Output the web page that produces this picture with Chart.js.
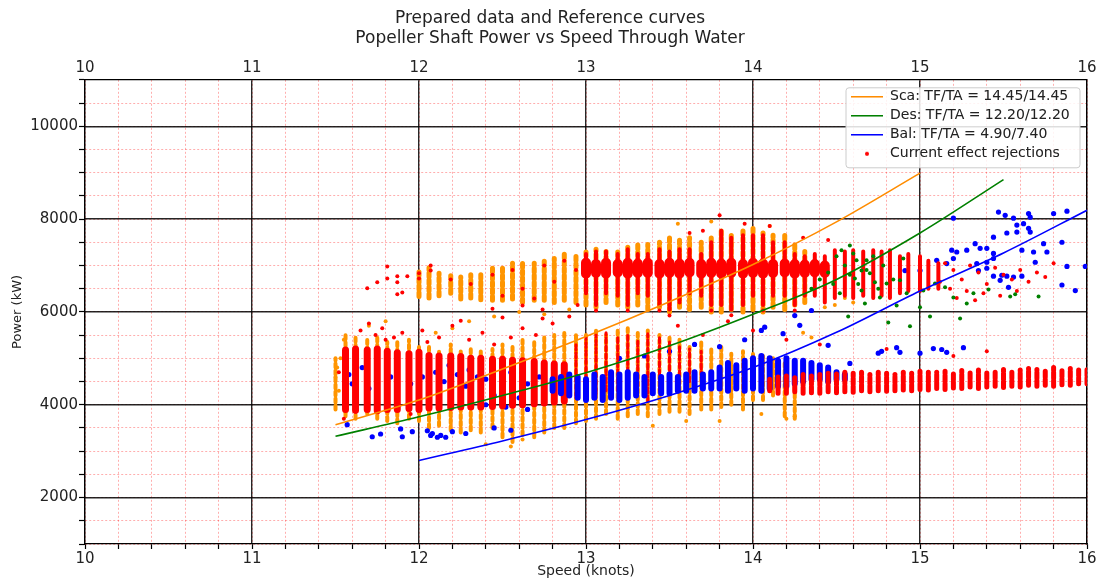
<!DOCTYPE html>
<html>
<head>
<meta charset="utf-8">
<script src="https://cdn.jsdelivr.net/npm/chart.js@4.4.0/dist/chart.umd.min.js"></script>
<style>
  html, body { margin: 0; padding: 0; background: #fff; }
</style>
</head>
<body>
<canvas id="powerChart" width="1100" height="581"></canvas>
<script>
// reference curves (speed in knots, power in kW)
const scaSpeed = [11.5, 12, 12.5, 13, 13.5, 14, 14.5, 15];
const scaPower = [3570, 4100, 4770, 5470, 6220, 7020, 7940, 8990];
const desSpeed = [11.5, 12, 12.5, 13, 13.5, 14, 14.5, 15, 15.5];
const desPower = [3320, 3740, 4200, 4690, 5270, 5950, 6700, 7700, 8850];
const balSpeed = [12, 12.5, 13, 13.5, 14, 14.5, 15, 15.5, 16];
const balPower = [2800, 3220, 3680, 4200, 4800, 5560, 6450, 7270, 8190];

// axis ticks
const speedMajor = [10, 11, 12, 13, 14, 15, 16];
const powerMajor = [2000, 4000, 6000, 8000, 10000];

// dense vertical columns of samples: speed, lowest and highest power
const orangeLowX = [11.50, 11.56, 11.62, 11.69, 11.75, 11.81, 11.87, 11.94, 12.00, 12.06, 12.12, 12.19, 12.25, 12.31, 12.37, 12.44, 12.50, 12.56, 12.62, 12.69, 12.75, 12.81, 12.87, 12.94, 13.00, 13.06, 13.12, 13.19, 13.25, 13.31, 13.37, 13.44, 13.50, 13.56, 13.62, 13.69, 13.75, 13.81, 13.87, 13.94, 14.00, 14.06, 14.12, 14.19, 14.25];
const orangeLowMin = [3900, 3750, 3700, 3800, 3700, 3650, 3600, 3700, 3650, 3500, 3550, 3450, 3400, 3450, 3400, 3500, 3300, 3200, 3350, 3300, 3400, 3500, 3500, 3600, 3650, 3700, 3800, 3700, 3750, 3800, 3750, 3800, 3850, 3850, 3800, 3900, 3900, 3950, 4000, 3900, 4100, 4100, 4200, 3750, 3700];
const orangeLowMax = [5000, 5500, 5450, 5400, 5500, 5350, 5400, 5400, 5300, 5250, 5200, 5300, 5200, 5250, 5150, 5200, 5300, 5300, 5400, 5400, 5450, 5500, 5600, 5550, 5500, 5650, 5500, 5650, 5700, 5550, 5600, 5500, 5450, 5400, 5300, 5350, 5200, 5300, 5100, 5150, 5100, 5050, 5000, 4950, 4800];

const orangeHighX = [12.00, 12.06, 12.12, 12.19, 12.25, 12.31, 12.37, 12.44, 12.50, 12.56, 12.62, 12.69, 12.75, 12.81, 12.87, 12.94, 13.00, 13.06, 13.12, 13.19, 13.25, 13.31, 13.37, 13.44, 13.50, 13.56, 13.62, 13.69, 13.75, 13.81, 13.87, 13.94, 14.00, 14.06, 14.12, 14.19, 14.25, 14.31];
const orangeHighMin = [6330, 6300, 6350, 6400, 6280, 6300, 6260, 6250, 6250, 6280, 6200, 6250, 6250, 6200, 6250, 6200, 6150, 6100, 6200, 6150, 6100, 6150, 6050, 6100, 6000, 6100, 6050, 6100, 6000, 6000, 6050, 6000, 6050, 6000, 6100, 6050, 6150, 6200];
const orangeHighMax = [6860, 6950, 6830, 6780, 6750, 6800, 6850, 6950, 7000, 7050, 7100, 7050, 7150, 7150, 7250, 7250, 7300, 7350, 7300, 7350, 7400, 7450, 7450, 7500, 7600, 7550, 7600, 7500, 7650, 7800, 7700, 7750, 7800, 7700, 7650, 7650, 7500, 7300];

const redLowX = [11.56, 11.62, 11.69, 11.75, 11.81, 11.87, 11.94, 12.00, 12.06, 12.12, 12.19, 12.25, 12.31, 12.37, 12.44, 12.50, 12.56, 12.62, 12.69, 12.75, 12.81, 12.87];
const redLowMin = [3900, 3880, 3900, 3870, 3900, 3900, 3920, 3900, 3930, 3930, 3940, 3950, 3950, 3950, 3960, 3980, 3990, 4000, 4020, 4040, 4060, 4080];
const redLowMax = [5180, 5200, 5180, 5200, 5150, 5120, 5100, 5130, 5060, 5050, 5050, 5040, 5000, 5000, 4980, 4980, 4960, 4950, 4930, 4900, 4880, 4860];

const redMidX = [12.94, 13.00, 13.06, 13.12, 13.19, 13.25, 13.31, 13.37, 13.44, 13.50, 13.56, 13.62, 13.69];
const redMidMin = [4150, 4200, 4250, 4300, 4300, 4350, 4400, 4080, 4300, 4400, 4450, 4500, 4600];
const redMidMax = [5350, 5450, 5500, 5550, 5450, 5500, 5400, 5530, 5450, 5350, 5300, 5200, 5150];

const redHighX = [13.00, 13.06, 13.12, 13.19, 13.25, 13.31, 13.37, 13.44, 13.50, 13.56, 13.62, 13.69, 13.75, 13.81, 13.87, 13.94, 14.00, 14.06, 14.12, 14.19, 14.25, 14.31, 14.37, 14.43, 14.49, 14.55, 14.60, 14.66, 14.72, 14.77, 14.82, 14.88, 14.93, 15.00, 15.05, 15.11];
const redHighMin = [6400, 6150, 6400, 6350, 6150, 6400, 6350, 6150, 6050, 6200, 6400, 6350, 6150, 6150, 6050, 6150, 6350, 6150, 6350, 6350, 6150, 6350, 6350, 6200, 6300, 6350, 6300, 6350, 6300, 6350, 6300, 6400, 6450, 6450, 6500, 6500];
const redHighMax = [7250, 7300, 7300, 7250, 7350, 7250, 7250, 7350, 7300, 7350, 7350, 7250, 7500, 7750, 7600, 7650, 7650, 7650, 7500, 7500, 7250, 7200, 7250, 7200, 7330, 7300, 7330, 7300, 7330, 7300, 7330, 7200, 7250, 7200, 7100, 7050];

// most crowded stretch of the upper cloud
const redCoreX = [13.00, 13.06, 13.12, 13.19, 13.25, 13.31, 13.37, 13.44, 13.50, 13.56, 13.62, 13.69, 13.75, 13.81, 13.87, 13.94, 14.00, 14.06, 14.12, 14.19, 14.25, 14.31, 14.37, 14.43];
const redCoreMin = [6820, 6840, 6820, 6850, 6820, 6840, 6840, 6820, 6840, 6820, 6850, 6820, 6840, 6820, 6840, 6820, 6840, 6820, 6840, 6850, 6820, 6840, 6850, 6840];
const redCoreMax = [7060, 7030, 7060, 7030, 7060, 7040, 7060, 7030, 7060, 7040, 7060, 7030, 7060, 7040, 7060, 7030, 7060, 7040, 7030, 7040, 7030, 7020, 7030, 7000];

const blueCloudX = [12.80, 12.85, 12.90, 12.95, 13.00, 13.05, 13.10, 13.15, 13.20, 13.25, 13.30, 13.35, 13.40, 13.45, 13.50, 13.55, 13.60, 13.65, 13.70, 13.75, 13.80, 13.85, 13.90, 13.95, 14.00, 14.05, 14.10, 14.15, 14.20, 14.25, 14.30, 14.35, 14.40, 14.45, 14.50, 14.55];
const blueCloudMin = [4300, 4250, 4200, 4150, 4100, 4150, 4100, 4150, 4100, 4150, 4200, 4200, 4250, 4250, 4250, 4300, 4300, 4300, 4350, 4350, 4350, 4300, 4350, 4300, 4350, 4300, 4350, 4400, 4400, 4450, 4500, 4550, 4550, 4500, 4550, 4550];
const blueCloudMax = [4550, 4600, 4650, 4600, 4550, 4650, 4600, 4700, 4650, 4700, 4650, 4600, 4650, 4600, 4650, 4600, 4650, 4700, 4650, 4700, 4800, 4900, 4850, 4950, 5000, 5050, 5000, 4950, 5000, 4950, 4950, 4900, 4850, 4800, 4700, 4650];

const redBandX = [14.10, 14.15, 14.20, 14.25, 14.30, 14.35, 14.40, 14.45, 14.50, 14.55, 14.60, 14.65, 14.70, 14.75, 14.80, 14.85, 14.90, 14.95, 15.00, 15.05, 15.10, 15.15, 15.20, 15.25, 15.30, 15.35, 15.40, 15.45, 15.50, 15.55, 15.60, 15.65, 15.70, 15.75, 15.80, 15.85, 15.90, 15.95, 16.00];
const redBandMin = [4300, 4250, 4250, 4280, 4250, 4260, 4250, 4280, 4260, 4280, 4270, 4300, 4280, 4300, 4290, 4300, 4320, 4300, 4330, 4320, 4350, 4330, 4360, 4350, 4380, 4350, 4380, 4400, 4370, 4400, 4380, 4420, 4400, 4420, 4400, 4430, 4420, 4450, 4450];
const redBandMax = [4550, 4600, 4620, 4600, 4650, 4620, 4650, 4680, 4660, 4700, 4680, 4700, 4650, 4700, 4680, 4650, 4700, 4680, 4720, 4700, 4700, 4720, 4700, 4740, 4700, 4750, 4700, 4720, 4760, 4730, 4750, 4780, 4760, 4750, 4800, 4760, 4780, 4750, 4780];

// single scattered samples [speed, power]
const orangePoints = [[12.30, 5800], [12.45, 5900], [12.60, 6000], [12.75, 5950], [12.90, 6050], [12.40, 3150], [12.55, 3100], [12.62, 3250], [14.20, 3700], [14.25, 3750], [14.05, 3800], [14.43, 6100], [14.49, 6150], [14.55, 6300], [14.60, 6200], [11.52, 4300], [11.50, 4600], [11.53, 5000], [11.51, 4800], [13.40, 3550], [13.60, 3650], [13.80, 3650], [14.30, 5550], [14.35, 5450], [13.55, 7900], [13.75, 7950], [14.10, 7850], [12.10, 5550], [12.20, 5650], [11.70, 5700], [11.55, 5400], [11.80, 5800]];

const greenPoints = [[14.58, 7430], [14.53, 7330], [14.60, 7260], [14.62, 7110], [14.65, 6890], [14.70, 6830], [14.61, 6720], [14.65, 6460], [14.67, 6180], [14.57, 5900], [14.81, 5770], [14.94, 5690], [14.86, 6140], [14.76, 6310], [14.73, 6640], [14.80, 6610], [14.88, 6680], [15.00, 6100], [15.06, 5900], [15.02, 6460], [14.92, 6400], [15.09, 6610], [15.15, 6530], [15.20, 6310], [15.24, 5860], [15.28, 6180], [15.32, 6400], [15.41, 6480], [15.54, 6330], [15.57, 6380], [15.71, 6330], [14.68, 7110], [14.50, 7200], [14.55, 7000], [14.58, 6800], [14.63, 6600], [14.68, 6900], [14.72, 7200], [14.75, 6500], [14.78, 7000], [14.84, 6700], [14.48, 6600], [14.52, 6400], [14.90, 7150], [14.45, 6850], [14.40, 6700], [14.35, 6500]];

const bluePoints = [[11.57, 3570], [11.72, 3310], [11.77, 3370], [11.89, 3480], [11.90, 3310], [11.96, 3420], [12.05, 3440], [12.07, 3340], [12.11, 3300], [12.13, 3340], [12.16, 3300], [12.08, 3380], [12.20, 3420], [12.28, 3380], [12.45, 3500], [12.55, 3450],
  [11.56, 5150], [11.62, 5170], [11.69, 5150], [11.75, 5180], [11.81, 5120], [11.87, 5100], [11.94, 5080], [12.00, 5120], [12.06, 5050], [12.12, 4950], [12.19, 5000], [12.25, 4980], [12.31, 4950], [12.37, 4900], [12.44, 4950], [12.50, 4970], [12.56, 4930], [12.62, 4900], [12.69, 4880], [12.75, 4850],
  [11.58, 4650], [11.60, 4450], [11.66, 4800], [11.70, 4350], [11.83, 4600], [11.95, 4450], [12.02, 4600], [12.10, 4700], [12.15, 4500], [12.23, 4650], [12.28, 4400], [12.35, 4600], [12.40, 4550], [12.45, 4200], [12.50, 4250], [12.55, 4700], [12.60, 4150], [12.65, 4450], [12.72, 4600], [12.80, 4300], [12.40, 4000], [12.52, 3950], [12.65, 3900], [12.30, 4750], [12.18, 4850],
  [13.20, 5000], [13.35, 5050], [13.50, 5150], [13.65, 5300], [13.80, 5250], [13.95, 5400], [14.05, 5600], [14.07, 5670], [14.18, 5530], [14.25, 5920], [14.28, 5710], [14.35, 6030],
  [14.75, 5110], [14.77, 5150], [14.86, 5230], [14.88, 5130], [15.00, 5110], [15.08, 5210], [15.13, 5190], [15.16, 5130], [15.26, 5230], [14.45, 5280], [14.58, 4890],
  [15.47, 8150], [15.51, 8080], [15.65, 8120], [15.66, 8040], [15.80, 8120], [15.88, 8170], [15.56, 8020], [15.58, 7870], [15.62, 7900], [15.65, 7800], [15.66, 7720], [15.44, 7610], [15.52, 7700], [15.58, 7720], [15.74, 7470], [15.85, 7500], [15.33, 7470], [15.36, 7370], [15.40, 7370], [15.44, 7260], [15.28, 7330], [15.22, 7290], [15.19, 7330], [15.61, 7330], [15.68, 7290], [15.76, 7290], [15.44, 7150], [15.40, 7070], [15.34, 7040], [15.40, 6940], [15.35, 6890], [15.49, 6790], [15.44, 6770], [15.48, 6680], [15.52, 6770], [15.56, 6750], [15.61, 6770], [15.53, 6530], [15.85, 6580], [15.88, 6980], [15.99, 6980], [15.69, 7070], [15.20, 7150], [15.10, 7110], [15.00, 6890], [15.16, 7040], [14.91, 6890], [15.20, 8020], [15.93, 6460]];

const redPoints = [[11.69, 6510], [11.75, 6640], [11.81, 6980], [11.81, 6720], [11.87, 6770], [11.87, 6640], [11.87, 6380], [11.90, 6420], [11.93, 6770], [12.00, 6830], [12.00, 6720], [12.07, 7000], [12.07, 6890], [12.44, 6070], [12.50, 5880], [12.62, 6140], [12.74, 5860], [12.74, 6050], [12.69, 6290], [12.25, 5810],
  [11.65, 5600], [11.70, 5750], [11.74, 5500], [11.78, 5650], [11.80, 5400], [11.85, 5450], [11.90, 5550], [12.02, 5600], [12.05, 5350], [12.12, 5450], [12.20, 5700], [12.30, 5400], [12.38, 5550], [12.45, 5300], [12.55, 5450], [12.62, 5650], [12.70, 5500], [12.80, 5750], [12.90, 5900], [12.95, 6150],
  [11.52, 4700], [11.55, 3700], [11.62, 3850], [11.95, 3800],
  [12.19, 6700], [12.31, 6600], [12.44, 6800], [12.56, 6900], [12.62, 6500], [12.75, 7000], [12.81, 6650], [12.87, 7100], [12.94, 6900], [12.50, 6350],
  [13.80, 8080], [13.62, 7700], [13.70, 7750], [13.95, 7900], [14.10, 7850], [14.30, 7600], [14.45, 7550],
  [13.06, 6030], [13.25, 6030], [13.44, 6030], [13.50, 5920], [13.75, 6030], [13.87, 5930], [14.06, 6030], [14.25, 6030],
  [15.15, 7050], [15.20, 6900], [15.25, 6700], [15.30, 7000], [15.35, 6850], [15.40, 6600], [15.45, 6950], [15.50, 6800], [15.55, 6700], [15.60, 6900], [15.65, 6650], [15.70, 6850], [15.75, 6750], [15.18, 6500], [15.28, 6450], [15.38, 6400], [15.48, 6350], [15.58, 6450], [15.22, 6300], [15.33, 6250], [15.80, 7050], [15.12, 6650],
  [13.55, 5700], [13.70, 5500], [13.85, 5800], [14.00, 5600], [14.20, 5400], [14.40, 5300], [14.80, 5200], [15.20, 5050], [15.40, 5150]];

Chart.defaults.font.family = "'DejaVu Sans', sans-serif";
Chart.defaults.color = '#222';

const ORANGE = '#ff9500';
const RED = '#ff0000';
const BLUE = '#0000ff';
const GREEN = '#008000';
const MINOR_GRID = 'rgba(255, 0, 0, 0.4)';
const MAJOR_GRID = 'rgba(0, 0, 0, 0.85)';

const isWhole = (v) => Math.abs(v - Math.round(v)) < 1e-6;
const toXY = (xs, ys) => xs.map((x, i) => ({ x, y: ys[i] }));
const toPts = (pairs) => pairs.map(([x, y]) => ({ x, y }));
const toColumns = (xs, lo, hi) => xs.flatMap((x, i) => [{ x, y: lo[i] }, { x, y: hi[i] }, { x, y: null }]);
const fixedTicks = (values) => (scale) => { scale.ticks = values.map((value) => ({ value })); };

const columnSet = (data, color, width, dash) => ({
  data,
  showLine: true,
  borderColor: color,
  borderWidth: width,
  borderCapStyle: 'round',
  borderDash: dash || [],
  pointRadius: 0,
  spanGaps: false,
});

const pointSet = (data, color, r, extra) => Object.assign({
  data,
  showLine: false,
  pointRadius: r,
  pointBackgroundColor: color,
  pointBorderColor: color,
  pointBorderWidth: 0,
  backgroundColor: color,
  borderColor: color,
}, extra || {});

const curveSet = (label, data, color, rank) => ({
  label,
  data,
  showLine: true,
  borderColor: color,
  backgroundColor: color,
  borderWidth: 1.6,
  pointRadius: 0,
  cubicInterpolationMode: 'monotone',
  legendRank: rank,
  legendStyle: 'line',
});

// little red dot used as the legend marker for the rejections
const dotMarker = document.createElement('canvas');
dotMarker.width = 8;
dotMarker.height = 8;
(() => {
  const c = dotMarker.getContext('2d');
  c.fillStyle = RED;
  c.beginPath();
  c.arc(4, 4, 2, 0, Math.PI * 2);
  c.fill();
})();

// keeps the legend in the upper right corner of the plot, on a white box above the data
const legendBox = {
  id: 'legendBox',
  afterLayout(chart) {
    const lg = chart.legend;
    const area = chart.chartArea;
    if (!lg) return;
    lg.left = area.right - 241;
    lg.top = area.top + 5;
    lg.right = lg.left + 240;
    lg.bottom = area.bottom;
  },
  afterDatasetsDraw(chart) {
    const lg = chart.legend;
    const ctx = chart.ctx;
    if (!lg) return;
    ctx.save();
    ctx.beginPath();
    ctx.roundRect(lg.left, lg.top + 3, 234, 80, 3);
    ctx.fillStyle = 'rgba(255, 255, 255, 0.85)';
    ctx.fill();
    ctx.strokeStyle = '#cccccc';
    ctx.lineWidth = 1;
    ctx.stroke();
    ctx.restore();
    lg.draw();
  },
};

// Chart.js paints the first dataset on top, so the list runs from front to back
new Chart(document.getElementById('powerChart'), {
  type: 'scatter',
  data: {
    datasets: [
      curveSet('Sca: TF/TA = 14.45/14.45', toXY(scaSpeed, scaPower), '#ff8c00', 1),
      curveSet('Des: TF/TA = 12.20/12.20', toXY(desSpeed, desPower), GREEN, 2),
      curveSet('Bal: TF/TA = 4.90/7.40', toXY(balSpeed, balPower), BLUE, 3),
      pointSet(toPts(greenPoints), GREEN, 2),
      pointSet(toPts(redPoints), RED, 2, { label: 'Current effect rejections', legendRank: 4, legendStyle: dotMarker }),
      columnSet(toColumns(redBandX, redBandMin, redBandMax), RED, 5, [6, 2]),
      columnSet(toColumns(blueCloudX, blueCloudMin, blueCloudMax), BLUE, 6),
      columnSet(toColumns(redCoreX, redCoreMin, redCoreMax), RED, 10),
      columnSet(toColumns(redHighX, redHighMin, redHighMax), RED, 4),
      columnSet(toColumns(redMidX, redMidMin, redMidMax), RED, 3, [5, 3]),
      columnSet(toColumns(redLowX, redLowMin, redLowMax), RED, 7),
      pointSet(toPts(bluePoints), BLUE, 2.6),
      pointSet(toPts(orangePoints), ORANGE, 2),
      columnSet(toColumns(orangeHighX, orangeHighMin, orangeHighMax), ORANGE, 5, [4, 3]),
      columnSet(toColumns(orangeLowX, orangeLowMin, orangeLowMax), ORANGE, 4, [4, 3]),
    ],
  },
  options: {
    responsive: false,
    animation: false,
    events: [],
    layout: { padding: 0 },
    scales: {
      x: {
        type: 'linear',
        position: 'bottom',
        min: 10,
        max: 16,
        ticks: {
          stepSize: 0.2,
          autoSkip: false,
          maxRotation: 0,
          padding: 1,
          font: { size: 15 },
          color: '#222',
          callback: (v) => (isWhole(v) ? String(Math.round(v)) : ''),
        },
        grid: { color: MINOR_GRID, lineWidth: 0.8, tickColor: '#000', tickLength: 5, tickWidth: 1.2, z: -2 },
        border: { color: '#000', width: 1.2, dash: [2, 2] },
        title: { display: true, text: 'Speed (knots)', font: { size: 14 }, color: '#222', padding: { top: 0, bottom: 1 } },
        afterFit: (s) => { s.height = 37; },
      },
      xTop: {
        type: 'linear',
        position: 'top',
        min: 10,
        max: 16,
        afterBuildTicks: fixedTicks(speedMajor),
        ticks: { autoSkip: false, maxRotation: 0, padding: 3, font: { size: 15 }, color: '#222' },
        grid: { color: MAJOR_GRID, lineWidth: 1.4, drawTicks: false, z: -1 },
        border: { color: '#000', width: 1.2 },
        afterFit: (s) => { s.height = 29; },
      },
      y: {
        type: 'linear',
        position: 'left',
        min: 1000,
        max: 11000,
        ticks: {
          stepSize: 500,
          autoSkip: false,
          padding: 1,
          font: { size: 15 },
          color: '#222',
          callback: (v) => (powerMajor.includes(v) ? String(v) : ''),
        },
        grid: { color: MINOR_GRID, lineWidth: 0.8, tickColor: '#000', tickLength: 6, tickWidth: 1.2, z: -2 },
        border: { color: '#000', width: 1.2, dash: [2, 2] },
        title: { display: true, text: 'Power (kW)', font: { size: 13 }, color: '#222', padding: { top: 10, bottom: 0 } },
        afterFit: (s) => { s.width = 85; },
      },
      yR: {
        type: 'linear',
        position: 'right',
        min: 1000,
        max: 11000,
        afterBuildTicks: fixedTicks(powerMajor),
        ticks: { display: false },
        grid: { color: MAJOR_GRID, lineWidth: 1.4, drawTicks: false, z: -1 },
        border: { color: '#000', width: 1.2 },
        afterFit: (s) => { s.width = 13; },
      },
    },
    plugins: {
      tooltip: { enabled: false },
      title: {
        display: true,
        text: ['Prepared data and Reference curves', 'Popeller Shaft Power vs Speed Through Water'],
        font: { size: 17, weight: 'normal', lineHeight: 1.2 },
        color: '#222',
        padding: { top: 8, bottom: 2 },
      },
      legend: {
        display: true,
        position: 'chartArea',
        align: 'start',
        labels: {
          usePointStyle: true,
          pointStyleWidth: 32,
          padding: 5,
          font: { size: 14 },
          color: '#222',
          generateLabels(chart) {
            return chart.data.datasets
              .map((ds, i) => ({ ds, i }))
              .filter((o) => o.ds.legendRank)
              .sort((a, b) => a.ds.legendRank - b.ds.legendRank)
              .map(({ ds, i }) => ({
                text: ds.label,
                datasetIndex: i,
                hidden: false,
                fillStyle: ds.borderColor,
                strokeStyle: ds.borderColor,
                lineWidth: 1.6,
                pointStyle: ds.legendStyle,
                fontColor: '#222',
              }));
          },
        },
      },
    },
  },
  plugins: [legendBox],
});
</script>
</body>
</html>
